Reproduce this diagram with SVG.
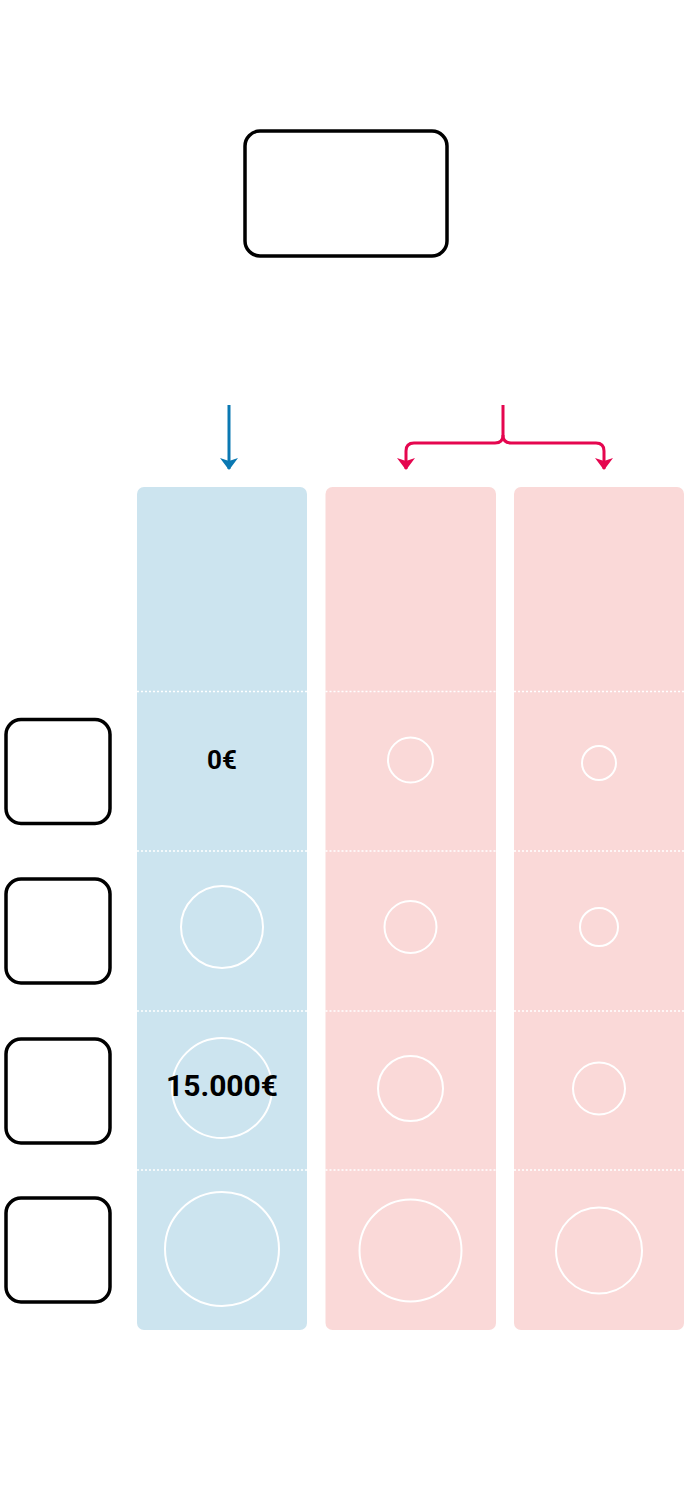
<svg xmlns="http://www.w3.org/2000/svg" width="690" height="1504" viewBox="0 0 690 1504">
<style>
.box{fill:#fff;stroke:#000;stroke-width:3.5}
.colb{fill:#cce4ef}
.colp{fill:#fad9d8}
.div{stroke:#fff;stroke-width:1.6;stroke-dasharray:2 2;fill:none}
.ring{fill:none;stroke:#fff;stroke-width:2}
.val{font-family:Roboto,"Liberation Sans",sans-serif;font-weight:bold;fill:#000;text-anchor:middle}
.cb{fill:none;stroke:#0a78b2;stroke-width:3}
.cp{fill:none;stroke:#e5064f;stroke-width:3}
</style>
<defs>
<marker id="ab" viewBox="0 0 18 12" refX="9" refY="11" markerWidth="18" markerHeight="12" markerUnits="userSpaceOnUse">
<path d="M0,0 L9,3 L18,0 L9,12 Z" fill="#0a78b2"/>
</marker>
<marker id="ap" viewBox="0 0 18 12" refX="9" refY="11" markerWidth="18" markerHeight="12" markerUnits="userSpaceOnUse">
<path d="M0,0 L9,3 L18,0 L9,12 Z" fill="#e5064f"/>
</marker>
</defs>
<rect width="690" height="1504" fill="#fff"/>
<g id="top-node"><rect class="box" x="245" y="131" width="202" height="125" rx="15"/></g>
<g id="row-label-1"><rect class="box" x="6" y="719.5" width="104" height="104" rx="15"/></g>
<g id="row-label-2"><rect class="box" x="6" y="879" width="104" height="104" rx="15"/></g>
<g id="row-label-3"><rect class="box" x="6" y="1039" width="104" height="104" rx="15"/></g>
<g id="row-label-4"><rect class="box" x="6" y="1198" width="104" height="104" rx="15"/></g>
<g id="col-blue">
<rect class="colb" x="137" y="487" width="170" height="843" rx="7"/>
<line class="div" x1="137" y1="691.5" x2="307" y2="691.5"/>
<line class="div" x1="137" y1="851" x2="307" y2="851"/>
<line class="div" x1="137" y1="1011" x2="307" y2="1011"/>
<line class="div" x1="137" y1="1170" x2="307" y2="1170"/>
<circle class="ring" cx="222" cy="927" r="41"/>
<circle class="ring" cx="222" cy="1088" r="50"/>
<circle class="ring" cx="222" cy="1249" r="57"/>
<text class="val" x="222" y="769" font-size="26">0€</text>
<text class="val" x="222" y="1096" font-size="30">15.000€</text>
</g>
<g id="col-pink-1">
<rect class="colp" x="325.5" y="487" width="170.5" height="843" rx="7"/>
<line class="div" x1="325.5" y1="691.5" x2="496" y2="691.5"/>
<line class="div" x1="325.5" y1="851" x2="496" y2="851"/>
<line class="div" x1="325.5" y1="1011" x2="496" y2="1011"/>
<line class="div" x1="325.5" y1="1170" x2="496" y2="1170"/>
<circle class="ring" cx="410.5" cy="760" r="22.5"/>
<circle class="ring" cx="410.5" cy="927" r="26"/>
<circle class="ring" cx="410.5" cy="1088.5" r="32.5"/>
<circle class="ring" cx="410.5" cy="1250.5" r="51"/>
</g>
<g id="col-pink-2">
<rect class="colp" x="514" y="487" width="170" height="843" rx="7"/>
<line class="div" x1="514" y1="691.5" x2="684" y2="691.5"/>
<line class="div" x1="514" y1="851" x2="684" y2="851"/>
<line class="div" x1="514" y1="1011" x2="684" y2="1011"/>
<line class="div" x1="514" y1="1170" x2="684" y2="1170"/>
<circle class="ring" cx="599" cy="763" r="17"/>
<circle class="ring" cx="599" cy="927" r="19"/>
<circle class="ring" cx="599" cy="1088.5" r="26"/>
<circle class="ring" cx="599" cy="1250.5" r="43"/>
</g>
<g id="connectors">
<path class="cb" d="M229,405 V469" marker-end="url(#ab)"/>
<path class="cp" d="M503,405 V435 Q503,443 495,443 H414 Q406,443 406,451 V469" marker-end="url(#ap)"/>
<path class="cp" d="M503,435 Q503,443 511,443 H596 Q604,443 604,451 V469" marker-end="url(#ap)"/>
</g>
</svg>
